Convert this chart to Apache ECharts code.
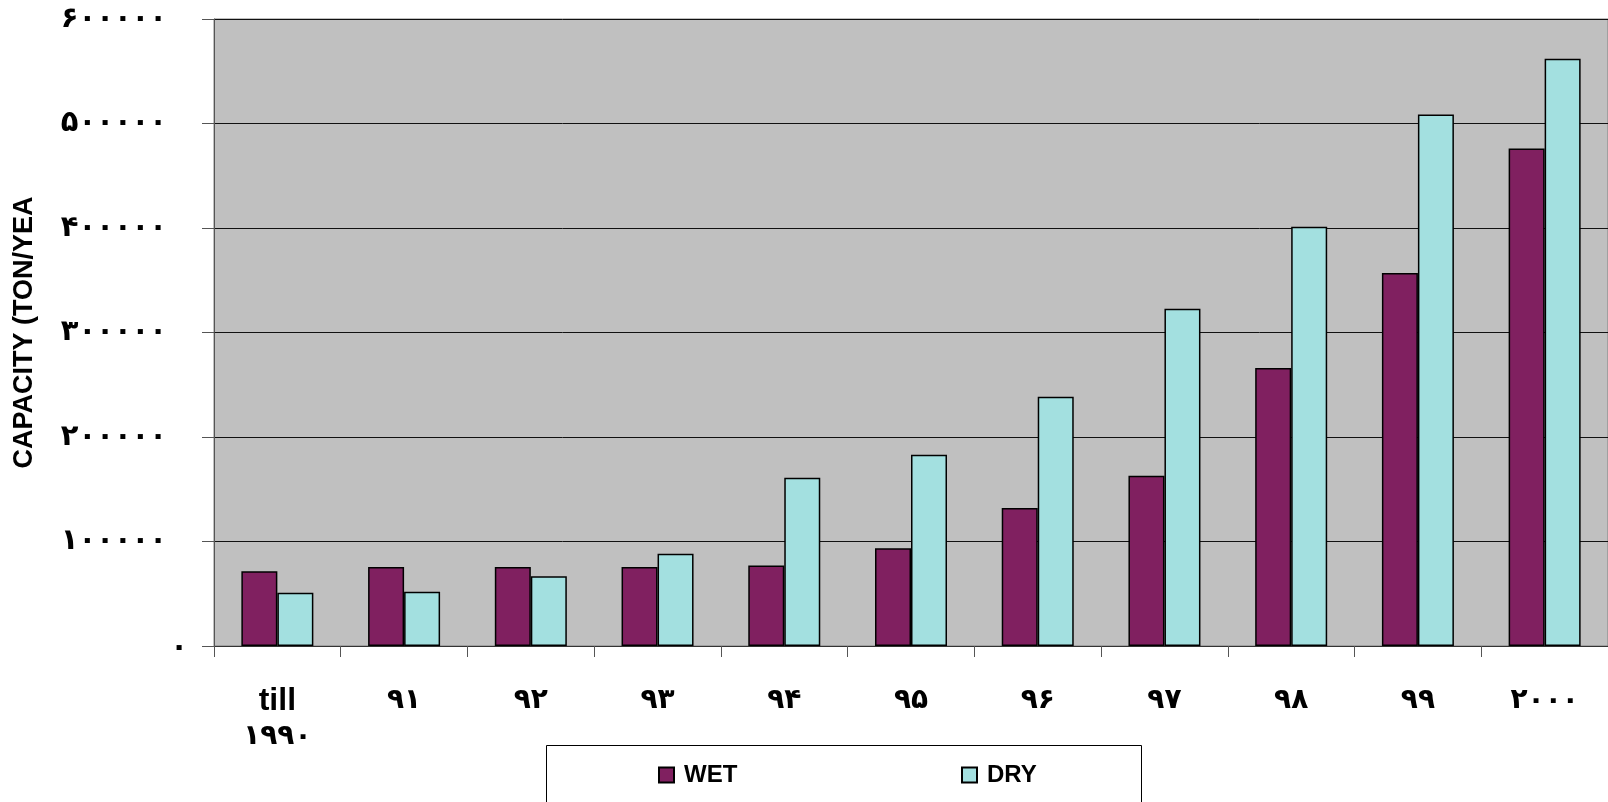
<!DOCTYPE html>
<html>
<head>
<meta charset="utf-8">
<title>capacity</title>
<script src="https://cdn.jsdelivr.net/npm/echarts@6/dist/echarts.min.js"></script>
<style>
  html, body { margin: 0; padding: 0; background: #fff; }
  #chart { width: 1608px; height: 802px; }
</style>
</head>
<body>
<div id="chart"></div>
<script>
// دسته ها (سال ها) - اولی دو خطی است
const categories = ['till\n۱۹۹۰', '۹۱', '۹۲', '۹۳', '۹۴', '۹۵', '۹۶', '۹۷', '۹۸', '۹۹', '۲۰۰۰'];
const wetValues = [71500, 75500, 75500, 75500, 77000, 93500, 132000, 163000, 266000, 357000, 476000];
const dryValues = [51000, 52000, 66800, 88200, 161000, 183000, 238400, 322800, 401300, 508500, 562000];
// برچسب های محور عمودی
const yTickLabels = ['۰', '۱۰۰۰۰۰', '۲۰۰۰۰۰', '۳۰۰۰۰۰', '۴۰۰۰۰۰', '۵۰۰۰۰۰', '۶۰۰۰۰۰'];

const chart = echarts.init(document.getElementById('chart'));

const legendText = { fontFamily: 'Liberation Sans', fontWeight: 'bold', fontSize: 24, color: '#000', lineHeight: 24, padding: [0, 0, 0, 5] };

const option = {
  backgroundColor: '#fff',
  animation: false,
  grid: {
    left: 214,
    right: 0,
    top: 19,
    bottom: 156,
    show: true,
    backgroundColor: '#c0c0c0',
    borderColor: '#808080',
    borderWidth: 1,
  },
  graphic: [
    {
      type: 'rect',
      shape: { x: 546.5, y: 745.5, width: 595, height: 80 },
      style: { fill: '#fff', stroke: '#000', lineWidth: 1 },
      z: 0,
    },
  ],
  legend: [
    { data: ['WET'], left: 658, top: 763, padding: 0, icon: 'rect', itemWidth: 15, itemHeight: 15, textStyle: legendText },
    { data: ['DRY'], left: 961, top: 763, padding: 0, icon: 'rect', itemWidth: 15, itemHeight: 15, textStyle: legendText },
  ],
  xAxis: {
    type: 'category',
    data: categories,
    axisLine: { lineStyle: { color: '#333', width: 1 } },
    axisTick: { show: true, length: 11, lineStyle: { color: '#555' } },
    axisLabel: {
      interval: 0,
      margin: 37,
      formatter: function(v) {
        // "till" با فونت انگلیسی، ارقام با فونت دژاوو
        return v.split('\n').map(function(p) {
          return /[a-z]/i.test(p) ? '{a|' + p + '}' : '{b|' + p + '}';
        }).join('\n');
      },
      rich: {
        a: { fontFamily: 'Liberation Sans', fontWeight: 'bold', fontSize: 32, color: '#000', lineHeight: 36 },
        b: { fontFamily: 'DejaVu Sans', fontWeight: 'bold', fontSize: 28, color: '#000', lineHeight: 36 },
      },
    },
  },
  yAxis: {
    type: 'value',
    min: 0,
    max: 600000,
    interval: 100000,
    name: 'CAPACITY (TON/YEA',
    nameLocation: 'middle',
    nameGap: 176,
    nameTextStyle: { fontFamily: 'Liberation Sans', fontWeight: 'bold', fontSize: 27, color: '#000' },
    axisLine: { show: true, lineStyle: { color: '#555', width: 1 } },
    axisTick: { show: true, length: 12, lineStyle: { color: '#555' } },
    splitLine: { show: true, lineStyle: { color: '#111', width: 1 } },
    axisLabel: {
      margin: 26,
      formatter: function(v) {
        const i = Math.round(v / 100000);
        return i === 0 ? '{z|' + yTickLabels[i] + '}' : '{n|' + yTickLabels[i] + '}';
      },
      rich: {
        n: { fontFamily: 'DejaVu Sans', fontWeight: 'bold', fontSize: 29, color: '#000', padding: [0, 21, 0, 0] },
        z: { fontFamily: 'DejaVu Sans', fontWeight: 'bold', fontSize: 29, color: '#000', padding: [4, 0, 0, 0] },
      },
    },
  },
  series: [
    {
      name: 'WET',
      type: 'bar',
      data: wetValues,
      barWidth: 36,
      barGap: '0%',
      itemStyle: { color: '#802060', borderColor: '#000', borderWidth: 1.5 },
    },
    {
      name: 'DRY',
      type: 'bar',
      data: dryValues,
      barWidth: 36,
      itemStyle: { color: '#a3e0e0', borderColor: '#000', borderWidth: 1.5 },
    },
  ],
};

chart.setOption(option);
</script>
</body>
</html>
